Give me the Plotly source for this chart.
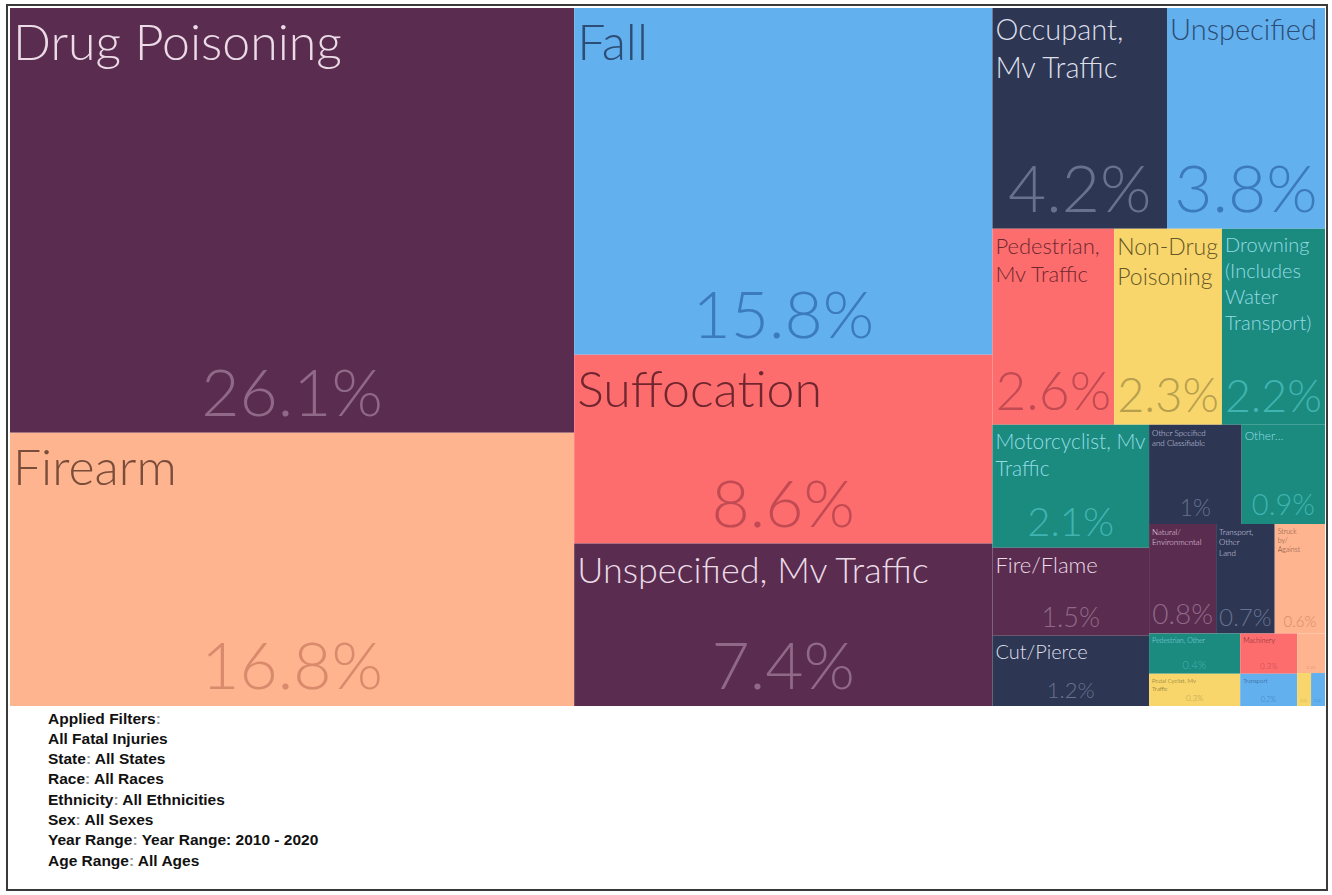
import plotly.graph_objects as go

# Share of fatal injuries by mechanism, 2010-2020 (percent)
categories = [
    "Drug Poisoning", "Firearm", "Fall", "Suffocation", "Unspecified, Mv Traffic",
    "Occupant, Mv Traffic", "Unspecified", "Pedestrian, Mv Traffic", "Non-Drug Poisoning",
    "Drowning (Includes Water Transport)", "Motorcyclist, Mv Traffic", "Fire/Flame",
    "Cut/Pierce", "Other Specified and Classifiable", "Other Specified, Not Elsewhere Classified",
    "Natural/Environmental", "Transport, Other Land", "Struck by/Against",
    "Pedestrian, Other", "Pedal Cyclist, Mv Traffic", "Machinery", "Transport, Other",
    "Hot Object/Substance", "Pedal Cyclist, Other", "Other Specified, Mv Traffic",
]
values = [
    26.1, 16.8, 15.8, 8.6, 7.4,
    4.2, 3.8, 2.6, 2.3,
    2.2, 2.1, 1.5,
    1.2, 1.0, 0.9,
    0.8, 0.7, 0.6,
    0.4, 0.32, 0.25, 0.2,
    0.12, 0.05, 0.05,
]
# tile captions, wrapped to fit their tiles
captions = [
    "Drug Poisoning", "Firearm", "Fall", "Suffocation", "Unspecified, Mv Traffic",
    "Occupant,<br>Mv Traffic", "Unspecified", "Pedestrian,<br>Mv Traffic", "Non-Drug<br>Poisoning",
    "Drowning<br>(Includes<br>Water<br>Transport)", "Motorcyclist, Mv<br>Traffic", "Fire/Flame",
    "Cut/Pierce", "Other Specified<br>and Classifiable", "Other...",
    "Natural/<br>Environmental", "Transport,<br>Other<br>Land", "Struck<br>by/<br>Against",
    "Pedestrian, Other", "Pedal Cyclist, Mv<br>Traffic", "Machinery", "Transport",
    "", "", "",
]
filters = [
    ("Applied Filters", ""),
    ("All Fatal Injuries", None),
    ("State", "All States"),
    ("Race", "All Races"),
    ("Ethnicity", "All Ethnicities"),
    ("Sex", "All Sexes"),
    ("Year Range", "Year Range: 2010 - 2020"),
    ("Age Range", "All Ages"),
]

# palette: (tile fill, caption colour, percentage colour)
PURPLE = ("#5a2c4f", "#eadbe6", "#906888")
PEACH = ("#fdb48f", "#7a4c3a", "#d98a6c")
BLUE = ("#63b0ef", "#2c4d75", "#3b7bbb")
SALMON = ("#fd6d6d", "#70262f", "#c24a52")
NAVY = ("#2d3652", "#dcdfea", "#667290")
YELLOW = ("#f8d66b", "#665628", "#b79f4e")
TEAL = ("#1b8a7f", "#93dce4", "#40b4b0")

tile_style = [
    PURPLE, PEACH, BLUE, SALMON, PURPLE,
    NAVY, BLUE, SALMON, YELLOW,
    TEAL, TEAL, PURPLE,
    NAVY, NAVY, TEAL,
    PURPLE, NAVY, PEACH,
    TEAL, YELLOW, SALMON, BLUE,
    PEACH, YELLOW, BLUE,
]
caption_px = [50, 50, 50, 50, 36, 29, 29, 22, 23, 20, 21, 22, 20, 8, 12, 8, 8, 7, 7, 6, 7, 6, 4, 4, 4]
percent_px = [66, 66, 66, 66, 66, 66, 66, 56, 47, 47, 40, 27, 22, 23, 29, 28, 25, 15, 11, 8, 8, 7, 4, 3, 3]

W, H = 1332, 895
dom_x = [10 / W, 1325 / W]
dom_y = [1 - 706 / H, 1 - 8 / H]

fills = [s[0] for s in tile_style]
cap_colors = [s[1] for s in tile_style]
pct_colors = [s[2] for s in tile_style]
parents = [""] * len(categories)

font_family = "Lato, 'Open Sans', sans-serif"

common = dict(
    ids=categories,
    labels=categories,
    parents=parents,
    values=values,
    branchvalues="total",
    sort=True,
    domain=dict(x=dom_x, y=dom_y),
    tiling=dict(packing="squarify", squarifyratio=1.618, pad=0),
    pathbar=dict(visible=False),
    root=dict(color="rgba(0,0,0,0)"),
    hoverinfo="skip",
)

# tiles with their captions in the top-left corner
names = go.Treemap(
    **common,
    text=captions,
    texttemplate="%{text}",
    textposition="top left",
    textfont=dict(family=font_family, size=caption_px, color=cap_colors, weight=300),
    marker=dict(colors=fills, line=dict(width=0), pad=dict(t=0, l=0, r=0, b=0)),
)

# transparent copy carrying the percentage labels at the bottom of each tile
percents = go.Treemap(
    **common,
    texttemplate="%{value:.1~f}%",
    textposition="bottom center",
    textfont=dict(family=font_family, size=percent_px, color=pct_colors, weight=300),
    marker=dict(colors=["rgba(0,0,0,0)"] * len(categories), line=dict(width=0),
                pad=dict(t=0, l=0, r=0, b=0)),
)

fig = go.Figure([names, percents])

annotations = []
for i, (key, val) in enumerate(filters):
    if val is None:
        txt = f"<b>{key}</b>"
    else:
        txt = f"<b>{key}<span style='color:#9a9a9a'>:</span> {val}</b>"
    annotations.append(dict(
        x=46 / W, y=1 - (718 + i * 20.3) / H, xref="paper", yref="paper",
        xanchor="left", yanchor="middle", showarrow=False, text=txt,
        font=dict(family="Liberation Sans, Arial, sans-serif", size=15.5, color="#111111"),
    ))

fig.update_layout(
    width=W, height=H,
    margin=dict(l=0, r=0, t=0, b=0),
    paper_bgcolor="white",
    plot_bgcolor="white",
    annotations=annotations,
    shapes=[dict(type="rect", xref="paper", yref="paper",
                 x0=7 / W, x1=1327 / W, y0=1 - 890 / H, y1=1 - 5 / H,
                 line=dict(color="#3a3a3a", width=2), fillcolor="rgba(0,0,0,0)")],
)

fig.write_html("out.html")
